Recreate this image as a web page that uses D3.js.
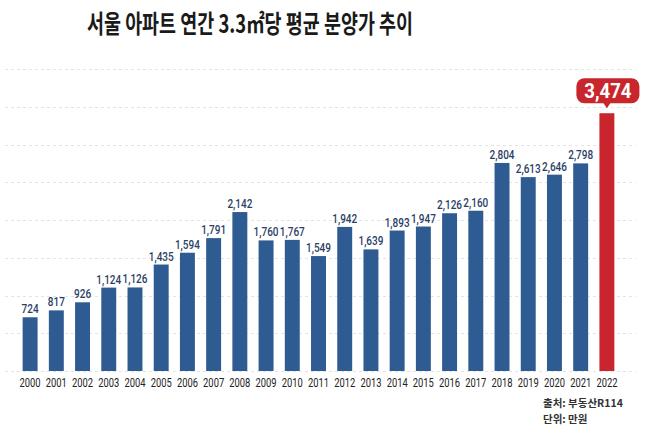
<!DOCTYPE html>
<html>
<head>
<meta charset="utf-8">
<script src="https://cdn.jsdelivr.net/npm/d3@7"></script>
<style>
  html, body { margin: 0; padding: 0; background: #fff; }
  svg { display: block; }
</style>
</head>
<body>
<svg id="chart" width="658" height="441"></svg>
<script>
const years = ["2000","2001","2002","2003","2004","2005","2006","2007","2008","2009","2010","2011","2012","2013","2014","2015","2016","2017","2018","2019","2020","2021","2022"];
const values = [724,817,926,1124,1126,1435,1594,1791,2142,1760,1767,1549,1942,1639,1893,1947,2126,2160,2804,2613,2646,2798,3474];
const highlightYear = "2022";
const titleText = "서울 아파트 연간 3.3㎡당 평균 분양가 추이";
const sourceText = "출처: 부동산R114";
const unitText = "단위: 만원";

const svg = d3.select("#chart");
const baseY = 371, topY = 69;
const gridCount = 8;

const x = d3.scaleBand().domain(years).range([17, 620]).paddingInner(0.43).paddingOuter(0.215);
const y = d3.scaleLinear().domain([0, 4070]).range([baseY, topY]);

const font = "Roboto, 'Liberation Sans', sans-serif";
const blue = "#2f5b93", red = "#c8262c";
const fmt = d3.format(",");

// gridlines
const gridVals = d3.range(gridCount + 1).map(i => y.domain()[1] * i / gridCount);
svg.append("g").selectAll("line").data(gridVals).join("line")
  .attr("x1", 5).attr("x2", 636)
  .attr("y1", d => Math.round(y(d)) + 0.5).attr("y2", d => Math.round(y(d)) + 0.5)
  .attr("stroke", "#e2e4e8").attr("stroke-width", 1).attr("stroke-dasharray", "3,3");

// title
svg.append("text")
  .attr("x", 87).attr("y", 33)
  .attr("textLength", 326).attr("lengthAdjust", "spacingAndGlyphs")
  .attr("font-family", "'Noto Sans CJK KR', 'Noto Sans', sans-serif")
  .attr("font-weight", 700).attr("font-size", 25).attr("fill", "#1a1a1a")
  .text(titleText);

// bars
const data = years.map((yr, i) => ({ yr, v: values[i] }));
svg.append("g").selectAll("rect").data(data).join("rect")
  .attr("x", d => x(d.yr)).attr("width", x.bandwidth())
  .attr("y", d => y(d.v)).attr("height", d => baseY - y(d.v))
  .attr("fill", d => d.yr === highlightYear ? red : blue);

// value labels (condensed via horizontal scale)
svg.append("g").selectAll("text").data(data.filter(d => d.yr !== highlightYear)).join("text")
  .attr("transform", d => `translate(${x(d.yr) + x.bandwidth() / 2},${y(d.v) - 4}) scale(0.8,1)`)
  .attr("text-anchor", "middle")
  .attr("font-family", font).attr("font-weight", 500).attr("font-size", 12.5)
  .attr("fill", "#2b3f66")
  .text(d => fmt(d.v));

// highlight callout
const hd = data.find(d => d.yr === highlightYear);
const cx = x(hd.yr) + x.bandwidth() / 2;
const boxW = 63, boxH = 25;
const boxBottom = y(hd.v) - 10;
const g = svg.append("g");
g.append("rect")
  .attr("x", cx - boxW / 2 + 1).attr("y", boxBottom - boxH)
  .attr("width", boxW).attr("height", boxH).attr("rx", 8).attr("ry", 8)
  .attr("fill", red);
g.append("path")
  .attr("d", `M${cx - 4},${boxBottom - 1} L${cx + 4},${boxBottom - 1} L${cx},${boxBottom + 5} Z`)
  .attr("fill", red);
g.append("text")
  .attr("transform", `translate(${cx + 1},${boxBottom - 5.5}) scale(0.93,1)`)
  .attr("text-anchor", "middle")
  .attr("font-family", font).attr("font-weight", 700).attr("font-size", 20)
  .attr("fill", "#fff")
  .text(fmt(hd.v));

// x axis labels
const xAxis = d3.axisBottom(x).tickSize(0).tickPadding(0);
const ax = svg.append("g").attr("transform", `translate(0,${baseY + 16})`).call(xAxis);
ax.select(".domain").remove();
ax.selectAll("text")
  .attr("dy", 0)
  .attr("transform", "scale(0.72,1)")
  .attr("font-family", font).attr("font-size", 13).attr("fill", "#222");

// footer
svg.append("text").attr("x", 543).attr("y", 407)
  .attr("font-family", "'Noto Sans CJK KR', sans-serif").attr("font-weight", 700).attr("font-size", 10.5)
  .attr("fill", "#333").text(sourceText);
svg.append("text").attr("x", 543).attr("y", 423)
  .attr("font-family", "'Noto Sans CJK KR', sans-serif").attr("font-weight", 700).attr("font-size", 10.5)
  .attr("fill", "#333").text(unitText);
</script>
</body>
</html>
